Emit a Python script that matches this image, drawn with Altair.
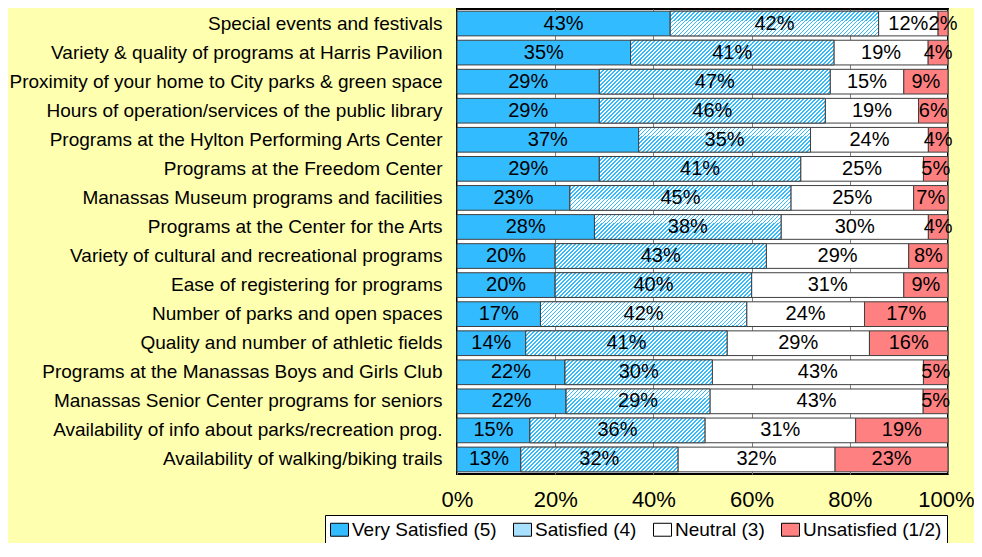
import altair as alt
import pandas as pd

items = [
    "Special events and festivals\u00a0",
    "Variety & quality of programs at Harris Pavilion",
    "Proximity of your home to City parks & green space",
    "Hours of operation/services of the public library",
    "Programs at the Hylton Performing Arts Center",
    "Programs at the Freedom Center\u00a0",
    "Manassas Museum programs and facilities",
    "Programs at the Center for the Arts",
    "Variety of cultural and recreational programs",
    "Ease of registering for programs",
    "Number of parks and open spaces",
    "Quality and number of athletic fields",
    "Programs at the Manassas Boys and Girls Club",
    "Manassas Senior Center programs for seniors",
    "Availability of info about parks/recreation prog.",
    "Availability of walking/biking trails",
]
very_satisfied = [43, 35, 29, 29, 37, 29, 23, 28, 20, 20, 17, 14, 22, 22, 15, 13]
satisfied = [42, 41, 47, 46, 35, 41, 45, 38, 43, 40, 42, 41, 30, 29, 36, 32]
neutral = [12, 19, 15, 19, 24, 25, 25, 30, 29, 31, 24, 29, 43, 43, 31, 32]
unsatisfied = [2, 4, 9, 6, 4, 5, 7, 4, 8, 9, 17, 16, 5, 5, 19, 23]
categories = ["Very Satisfied (5)", "Satisfied (4)", "Neutral (3)", "Unsatisfied (1/2)"]
x_ticks = [0, 0.2, 0.4, 0.6, 0.8, 1.0]

series = [very_satisfied, satisfied, neutral, unsatisfied]
rows = []
for i, item in enumerate(items):
    for k, cat in enumerate(categories):
        rows.append({"item": item, "cat": cat, "order": k, "value": series[k][i]})
df = pd.DataFrame(rows)

PLOT_W, PLOT_H = 491, 465
BAR_H = 25
BLUE = "#33BBFF"
HATCH_BLUE = "#33BBFF"

# diagonal hatch built as a striped linear gradient (45 degree "/" lines)
N = 80
frac = 0.42
stops = []
for i in range(N):
    a, b, c = i / N, (i + frac) / N, (i + 1) / N
    stops.append(f"{{'offset': {a:.5f}, 'color': '{HATCH_BLUE}'}}")
    stops.append(f"{{'offset': {b:.5f}, 'color': '{HATCH_BLUE}'}}")
    stops.append(f"{{'offset': {b:.5f}, 'color': 'white'}}")
    stops.append(f"{{'offset': {c:.5f}, 'color': 'white'}}")
D = 4 * N
grad_expr = ("({'gradient': 'linear', 'x1': 0, 'y1': 0, 'x2': datum.gx2, 'y2': datum.gy2, 'stops': ["
             + ", ".join(stops) + "]})")

base = alt.Chart(df).transform_stack(
    stack="value", groupby=["item"], as_=["x0", "x1"], offset="normalize",
    sort=[alt.SortField("order", order="ascending")],
)

y_enc = alt.Y(
    "item:N", sort=items, title=None,
    scale=alt.Scale(paddingInner=0.15, paddingOuter=0.075),
    axis=alt.Axis(ticks=False, domain=False, labelFontSize=19, labelFont="Liberation Sans",
                  labelColor="black", labelPadding=15, labelLimit=600),
)
x_enc = alt.X(
    "x0:Q", title=None, scale=alt.Scale(domain=[0, 1], nice=False),
    axis=alt.Axis(
        values=x_ticks, format="%", labelFontSize=22, labelFont="Liberation Sans",
        labelColor="black", ticks=False, domain=False, grid=True, labelFlush=False,
        gridColor="#808080", gridWidth=1, labelPadding=15,
        labelAlign={"condition": {"test": "datum.value >= 1", "value": "right"}, "value": "center"},
        labelOffset={"condition": {"test": "datum.value >= 1", "value": 26}, "value": 0},
    ),
)

bars = base.mark_bar(stroke="#404040", strokeWidth=1).encode(
    y=y_enc,
    x=x_enc,
    x2="x1:Q",
    fill=alt.Fill(
        "cat:N",
        scale=alt.Scale(domain=categories, range=[BLUE, "#A8E0FF", "white", "#FF8080"]),
        legend=alt.Legend(
            title=None, orient="none", legendX=-132, legendY=506, direction="horizontal",
            fillColor="white", strokeColor="black", padding=5,
            labelFontSize=19, labelFont="Liberation Sans", labelColor="black",
            symbolType="M-1,-0.72H1V0.72H-1Z", symbolSize=324,
            symbolStrokeColor="black", symbolStrokeWidth=1, symbolOpacity=1,
            labelOffset=3, columnPadding=14,
            labelExpr="datum.label == 'Unsatisfied (1/2)' ? datum.label + '\u00a0\u00a0\u00a0\u00a0\u00a0\u00a0' : datum.label",
        ),
    ),
)

hatch = base.transform_filter(
    alt.datum.cat == "Satisfied (4)"
).transform_calculate(
    gw=f"(datum.x1 - datum.x0) * {PLOT_W}",
).transform_calculate(
    gx2=f"{D} * datum.gw / (datum.gw * datum.gw + {BAR_H * BAR_H})",
    gy2=f"{D} * {BAR_H} / (datum.gw * datum.gw + {BAR_H * BAR_H})",
).transform_calculate(
    grad=grad_expr,
).mark_bar(stroke="#404040", strokeWidth=1).encode(
    y=alt.Y("item:N", sort=items),
    x=alt.X("x0:Q"),
    x2="x1:Q",
    fill=alt.Fill("grad:N", scale=None, legend=None),
)

labels = base.transform_calculate(
    mid="(datum.x0 + datum.x1) / 2",
    label="datum.value + '%'",
).mark_text(fontSize=20, font="Liberation Sans", color="black", baseline="middle").encode(
    y=alt.Y("item:N", sort=items),
    x=alt.X("mid:Q"),
    text="label:N",
)

chart = alt.layer(bars, hatch, labels).properties(
    width=PLOT_W,
    height=PLOT_H,
    autosize="none",
    padding={"left": 449, "top": 1, "right": 26, "bottom": 69},
    background="#FFFFB0",
).configure_view(stroke="black", strokeWidth=2, fill="white")

chart.save("out.html", embed_options={"renderer": "svg", "actions": False})
